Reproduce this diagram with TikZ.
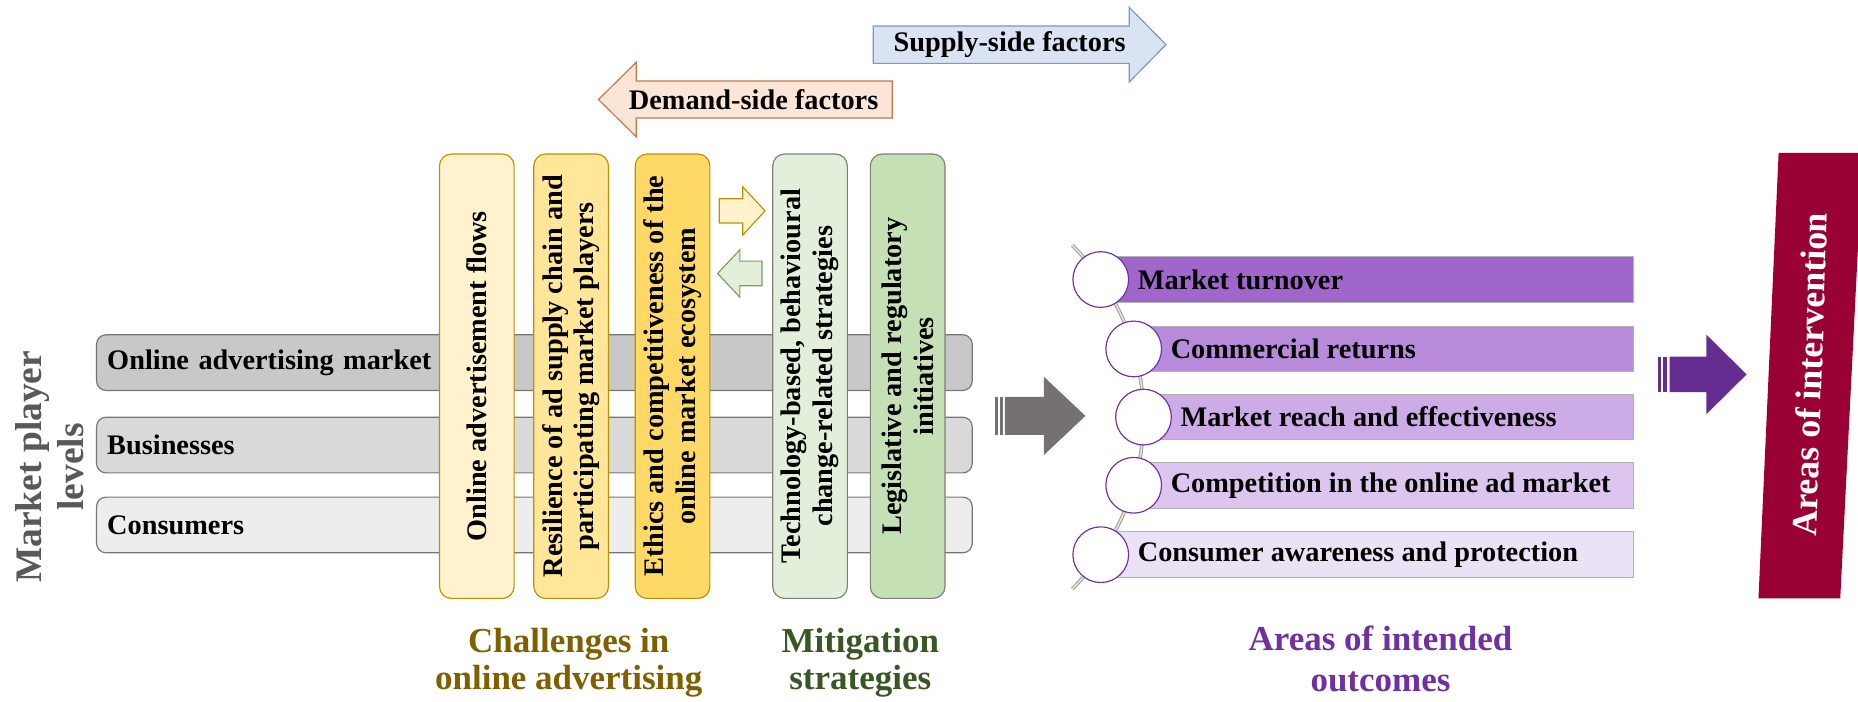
\documentclass[tikz,border=0pt]{standalone}
\usepackage{fontspec}
\setmainfont{Liberation Serif}
\usetikzlibrary{arrows.meta,positioning,calc}

\definecolor{lvlA}{RGB}{200,200,200}
\definecolor{lvlB}{RGB}{217,217,217}
\definecolor{lvlC}{RGB}{237,237,237}
\definecolor{lvlline}{RGB}{118,118,118}
\definecolor{lvltext}{RGB}{89,89,89}
\definecolor{chA}{RGB}{255,242,204}
\definecolor{chB}{RGB}{255,230,153}
\definecolor{chC}{RGB}{255,217,102}
\definecolor{chline}{RGB}{191,144,0}
\definecolor{chtext}{RGB}{127,96,0}
\definecolor{miA}{RGB}{226,239,218}
\definecolor{miB}{RGB}{197,224,180}
\definecolor{miline}{RGB}{127,127,127}
\definecolor{miarrow}{RGB}{120,160,95}
\definecolor{mitext}{RGB}{56,87,35}
\definecolor{outA}{RGB}{160,102,204}
\definecolor{outB}{RGB}{184,138,218}
\definecolor{outC}{RGB}{205,171,230}
\definecolor{outD}{RGB}{220,197,238}
\definecolor{outE}{RGB}{236,226,246}
\definecolor{outline}{RGB}{112,48,160}
\definecolor{supA}{RGB}{218,227,243}
\definecolor{supline}{RGB}{132,151,176}
\definecolor{demA}{RGB}{251,229,214}
\definecolor{demline}{RGB}{197,120,70}
\definecolor{arrowgray}{RGB}{118,113,113}
\definecolor{arrowpurple}{RGB}{102,45,145}
\definecolor{interv}{RGB}{153,0,51}

% horizontal block arrow: [style] tail x, head base x, tip x, y, half shaft, half head
\newcommand{\blockarrow}[7][]{%
  \draw[#1] (#2,#5-#6) -- (#3,#5-#6) -- (#3,#5-#7) -- (#4,#5)
    -- (#3,#5+#7) -- (#3,#5+#6) -- (#2,#5+#6) -- cycle;}

\begin{document}
\begin{tikzpicture}[scale=1.0,
  every node/.style={font=\bfseries\fontsize{17}{19}\selectfont},
  hbar/.style={draw=lvlline, line width=0.7pt, rounded corners=0.2cm, anchor=west,
    minimum height=1.175cm, inner xsep=0.225cm, text width=18.025cm, align=left},
  vbox/.style={rotate=90, line width=0.7pt, rounded corners=0.25cm, align=center,
    minimum width=9.375cm, minimum height=1.575cm, inner sep=0pt},
  obar/.style={draw=gray!60, line width=0.6pt, minimum height=0.96cm, anchor=west, inner sep=0pt},
  circ/.style={circle, draw=outline, fill=white, line width=0.7pt, minimum size=1.175cm, inner sep=0pt},
  title/.style={anchor=north, inner sep=0pt, align=center, font=\bfseries\fontsize{21}{22}\selectfont}]
  \useasboundingbox (0,0) rectangle (39.2,-14.79);

  % market player levels
  \node[rotate=90, align=center, text=lvltext, font=\bfseries\fontsize{22.5}{25}\selectfont]
    (levels) at (1.05,-9.85) {Market player\\levels};
  \foreach \n/\y/\col/\txt in {market/-7.65/lvlA/{Online advertising market},
                               business/-9.39/lvlB/{Businesses},
                               consumer/-11.075/lvlC/{Consumers}}{
    \node[hbar, fill=\col] (\n) at (2.025,\y) {\txt};
  }

  % challenges and mitigation columns
  \foreach \n/\x/\col/\ln/\txt in {
      ch1/10.06/chA/chline/{Online advertisement flows},
      ch2/12.05/chB/chline/{Resilience of ad supply chain and\\participating market players},
      ch3/14.19/chC/chline/{Ethics and competitiveness of the\\online market ecosystem},
      mi1/17.09/miA/miline/{Technology-based, behavioural\\change-related strategies},
      mi2/19.15/miB/miline/{Legislative and regulatory\\initiatives}}{
    \node[vbox, fill=\col, draw=\ln] (\n) at (\x,-7.9375) {\txt};
  }

  % supply and demand factors
  \blockarrow[fill=supA, draw=supline, line width=0.7pt]{18.425}{23.825}{24.6}{-0.9425}{0.394}{0.7875}
  \node (supply) at (21.3,-0.9425) {Supply-side factors};
  \blockarrow[fill=demA, draw=demline, line width=0.7pt]{18.825}{13.425}{12.625}{-2.1}{0.39}{0.7875}
  \node (demand) at (15.9,-2.1) {Demand-side factors};

  % small arrows between the columns
  \blockarrow[fill=chA, draw=chline, line width=0.7pt]{15.175}{15.67}{16.14}{-4.45}{0.256}{0.51}
  \blockarrow[fill=miA, draw=miarrow, line width=0.7pt]{16.075}{15.61}{15.14}{-5.77}{0.26}{0.5}

  % grey striped arrow
  \fill[arrowgray] (21.0,-9.175) rectangle (21.05,-8.375);
  \fill[arrowgray] (21.0875,-9.175) rectangle (21.1625,-8.375);
  \blockarrow[fill=arrowgray, draw=none]{21.2}{22.025}{22.9}{-8.775}{0.4}{0.825}

  % intended outcomes on an arc
  \draw[gray!70, double=gray!20, double distance=0.8pt, line width=0.7pt]
    (19,-8.8) ++(-45:5.125) arc[start angle=-45, end angle=45, radius=5.125];
  \foreach \i/\ang/\col/\txt in {1/34.5/outA/{Market turnover},
                                 2/16.3/outB/{Commercial returns},
                                 3/0/outC/{Market reach and effectiveness},
                                 4/-16.3/outD/{Competition in the online ad market},
                                 5/-34.5/outE/{Consumer awareness and protection}}{
    \pgfmathsetmacro\cx{19+5.125*cos(\ang)}
    \pgfmathsetmacro\cy{-8.8+5.125*sin(\ang)}
    \pgfmathsetmacro\bw{34.45-\cx}
    \node[obar, fill=\col, minimum width=\bw cm] (o\i) at (\cx,\cy) {};
    \node[circ] (c\i) at (\cx,\cy) {};
    \node[anchor=west, inner sep=0pt] (t\i) at (\cx+0.775,\cy) {\txt};
  }

  % purple striped arrow
  \fill[arrowpurple] (34.975,-8.275) rectangle (35.04,-7.525);
  \fill[arrowpurple] (35.075,-8.275) rectangle (35.175,-7.525);
  \blockarrow[fill=arrowpurple, draw=none]{35.225}{36.0}{36.85}{-7.9}{0.375}{0.84}

  % areas of intervention
  \fill[interv] (37.525,-3.225) -- (39.3,-3.225) -- (38.825,-12.625) -- (37.1,-12.625) -- cycle;
  \node[rotate=88, text=white, font=\bfseries\fontsize{21.5}{24}\selectfont]
    (intervention) at (38.175,-7.9) {Areas of intervention};

  % column titles
  \node[title, text=chtext] (chtitle) at (12.0,-13.25) {Challenges in\\online advertising};
  \node[title, text=mitext] (mititle) at (18.15,-13.25) {Mitigation\\strategies};
  \node[title, text=outline, font=\bfseries\fontsize{21}{24.5}\selectfont]
    (outtitle) at (29.125,-13.2) {Areas of intended\\outcomes};
\end{tikzpicture}
\end{document}
